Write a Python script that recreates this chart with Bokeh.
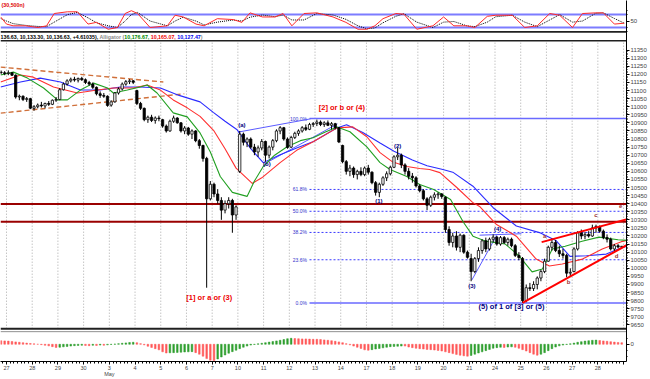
from bokeh.plotting import figure
from bokeh.models import Range1d, FixedTicker, CustomJSTickFormatter, ColumnDataSource
from bokeh.core.properties import value
from bokeh.embed import file_html
from bokeh.resources import INLINE

# ------------------------------------------------------------------ data
day_labels = ["27", "28", "29", "30", "3\nMay", "4", "5", "6", "7", "10", "11", "12", "13",
              "14", "17", "18", "19", "20", "21", "24", "25", "26", "27", "28", ""]
bars_per_day = 7
bar_index = list(range(-2, 168))   # hourly bars, 0 = 27 Apr 9:30

opens = [11215, 11210,
         11205, 11210, 11195, 11060, 11065, 11045, 11050,
         10990, 11000, 11010, 11005, 11020, 11015, 11040,
         11045, 11105, 11140, 11160, 11170, 11165, 11175,
         11167, 11150, 11140, 11120, 11080, 11070, 11065,
         11010, 11030, 11085, 11110, 11140, 11155, 11160,
         11100, 11020, 10990, 10920, 10935, 10915, 10930,
         10920, 10880, 10850, 10910, 10930, 10900, 10850,
         10868, 10830, 10850, 10790, 10760, 10680, 10430,
         10520, 10460, 10420, 10360, 10400, 10420, 10330,
         10600, 10830, 10780, 10800, 10750, 10720, 10745,
         10785, 10700, 10750, 10790, 10850, 10870, 10800,
         10750, 10810, 10835, 10850, 10870, 10860, 10890,
         10896, 10905, 10890, 10900, 10885, 10895, 10870,
         10760, 10660, 10600, 10620, 10580, 10600, 10580,
         10620, 10595, 10530, 10470, 10520, 10560, 10585,
         10625, 10690, 10700, 10640, 10600, 10570, 10560,
         10510, 10480, 10430, 10390, 10440, 10455, 10460,
         10440, 10240, 10160, 10200, 10130, 10205, 10100,
         10060, 9980, 10060, 10110, 10170, 10120, 10180,
         10193, 10150, 10190, 10160, 10180, 10140, 10080,
         10060, 9800, 9880, 9875, 9900, 9940, 9980,
         10044, 10130, 10160, 10110, 10090, 10080, 9970,
         9980, 10120, 10220, 10200, 10210, 10200, 10250,
         10259, 10230, 10190, 10180, 10120, 10140, 10134]
highs = [11225, 11220,
         11225, 11215, 11200, 11075, 11070, 11060, 11055,
         11010, 11020, 11030, 11025, 11035, 11045, 11060,
         11115, 11150, 11170, 11180, 11185, 11180, 11185,
         11175, 11160, 11150, 11125, 11095, 11085, 11070,
         11040, 11090, 11120, 11150, 11165, 11170, 11165,
         11105, 11030, 10995, 10945, 10950, 10940, 10945,
         10925, 10890, 10920, 10945, 10935, 10905, 10880,
         10875, 10860, 10855, 10800, 10765, 10690, 10540,
         10530, 10490, 10440, 10420, 10440, 10430, 10390,
         10850, 10840, 10810, 10810, 10770, 10760, 10800,
         10790, 10760, 10800, 10860, 10880, 10875, 10810,
         10820, 10845, 10860, 10880, 10890, 10900, 10905,
         10920, 10915, 10910, 10915, 10905, 10900, 10875,
         10765, 10670, 10640, 10630, 10610, 10625, 10630,
         10640, 10600, 10540, 10530, 10570, 10600, 10635,
         10700, 10745, 10710, 10650, 10620, 10590, 10570,
         10520, 10490, 10440, 10450, 10470, 10470, 10465,
         10445, 10260, 10220, 10230, 10215, 10210, 10110,
         10090, 10070, 10130, 10180, 10190, 10190, 10210,
         10200, 10200, 10200, 10190, 10190, 10150, 10100,
         10070, 9900, 9910, 9920, 9950, 9990, 10060,
         10140, 10185, 10175, 10140, 10120, 10090, 10000,
         10130, 10230, 10240, 10225, 10230, 10270, 10270,
         10265, 10240, 10210, 10190, 10150, 10150, 10136.63]
lows = [11200, 11195,
        11195, 11190, 11050, 11040, 11035, 11030, 10985,
        10975, 10990, 10995, 10990, 11005, 11010, 11030,
        11040, 11100, 11130, 11150, 11155, 11150, 11160,
        11140, 11130, 11110, 11070, 11055, 11055, 11000,
        11000, 11025, 11075, 11100, 11130, 11140, 11140,
        11010, 10980, 10910, 10900, 10905, 10895, 10910,
        10870, 10840, 10845, 10900, 10895, 10840, 10830,
        10820, 10800, 10780, 10740, 10660, 9880, 10420,
        10440, 10400, 10300, 10340, 10370, 10220, 10300,
        10590, 10760, 10750, 10740, 10700, 10690, 10730,
        10660, 10680, 10730, 10780, 10830, 10790, 10740,
        10745, 10800, 10820, 10840, 10850, 10855, 10875,
        10880, 10880, 10875, 10880, 10860, 10860, 10775,
        10650, 10580, 10570, 10560, 10550, 10570, 10570,
        10580, 10520, 10450, 10440, 10510, 10540, 10575,
        10620, 10670, 10620, 10580, 10550, 10530, 10500,
        10470, 10420, 10360, 10380, 10420, 10430, 10430,
        10220, 10140, 10130, 10110, 10100, 10090, 10060,
        9920, 9970, 10040, 10090, 10100, 10110, 10160,
        10140, 10140, 10150, 10140, 10130, 10070, 10050,
        9785, 9790, 9860, 9860, 9870, 9920, 9970,
        10040, 10110, 10100, 10070, 10060, 9945, 9950,
        9975, 10110, 10180, 10180, 10190, 10195, 10220,
        10220, 10180, 10160, 10110, 10105, 10125, 10133.30]
closes = [11210, 11205,
          11210, 11195, 11060, 11065, 11045, 11050, 10991,
          11000, 11010, 11005, 11020, 11015, 11040, 11045,
          11105, 11140, 11160, 11170, 11165, 11175, 11167,
          11150, 11140, 11120, 11080, 11070, 11065, 11008,
          11030, 11085, 11110, 11140, 11155, 11160, 11151,
          11020, 10990, 10920, 10935, 10915, 10930, 10926,
          10880, 10850, 10910, 10930, 10900, 10850, 10868,
          10830, 10850, 10790, 10760, 10680, 10430, 10520,
          10460, 10420, 10360, 10400, 10420, 10330, 10380,
          10830, 10780, 10800, 10750, 10720, 10745, 10785,
          10700, 10750, 10790, 10850, 10870, 10800, 10748,
          10810, 10835, 10850, 10870, 10860, 10890, 10896,
          10905, 10890, 10900, 10885, 10895, 10870, 10782,
          10660, 10600, 10620, 10580, 10600, 10580, 10620,
          10595, 10530, 10470, 10520, 10560, 10585, 10625,
          10690, 10700, 10640, 10600, 10570, 10560, 10510,
          10480, 10430, 10390, 10440, 10455, 10460, 10444,
          10240, 10160, 10200, 10130, 10205, 10100, 10068,
          9980, 10060, 10110, 10170, 10120, 10180, 10193,
          10150, 10190, 10160, 10180, 10140, 10080, 10067,
          9800, 9880, 9875, 9900, 9940, 9980, 10044,
          10130, 10160, 10110, 10090, 10080, 9970, 9975,
          10120, 10220, 10200, 10210, 10200, 10250, 10259,
          10230, 10190, 10180, 10120, 10140, 10132, 10136.63]

# Alligator lines at sample bars
lips_x = [-2.1, 1.4, 5.2, 9.6, 13.4, 16.1, 19.6, 23.2, 27.0, 28.6, 32.4, 35.9, 37.8, 40.5, 44.9,
          48.7, 52.2, 55.0, 57.7, 61.0, 65.0, 67.0, 69.4, 72.5, 75.9, 79.5, 83.0, 86.0, 89.5, 93.0,
          97.6, 101.2, 103.9, 108.5, 112.0, 115.8, 120.4, 123.9, 126.5, 130.0, 135.3, 139.1, 142.6,
          145.4, 148.1, 151.6, 156.2, 160.8, 166.0, 168.8]
lips_y = [11196, 11214, 11177, 11116, 11042, 11042, 11103, 11146, 11116, 11085, 11103, 11122, 11134,
          11085, 10962, 10937, 10838, 10720, 10568, 10470, 10445, 10540, 10630, 10700, 10752, 10790,
          10808, 10840, 10875, 10845, 10752, 10654, 10611, 10568, 10519, 10488, 10426, 10285, 10199,
          10168, 10150, 10076, 9978, 9996, 10119, 10137, 10168, 10193, 10177, 10172]
teeth_x = [-2.1, 3.3, 6.8, 12.3, 18.8, 24.2, 28.6, 34.0, 37.8, 41.4, 44.9, 48.7, 52.2, 56.0, 59.0,
           62.0, 66.4, 69.0, 74.0, 78.5, 83.0, 89.5, 93.8, 97.6, 101.2, 104.5, 108.5, 112.0, 114.7,
           117.5, 122.1, 126.4, 128.3, 132.8, 138.3, 143.7, 147.3, 150.8, 156.3, 161.7, 166.9, 168.8]
teeth_y = [11153, 11196, 11183, 11122, 11085, 11103, 11116, 11116, 11134, 11103, 11042, 10993, 10940,
           10850, 10740, 10620, 10525, 10560, 10654, 10730, 10783, 10869, 10875, 10814, 10716, 10660,
           10630, 10618, 10611, 10592, 10500, 10408, 10383, 10273, 10199, 10057, 10014, 10027, 10057,
           10119, 10165, 10175]
jaw_x = [-2.1, 3.3, 8.7, 14.2, 19.6, 25.0, 30.5, 35.9, 41.4, 46.5, 52.2, 55.8, 59.0, 62.3, 66.0,
         69.4, 74.0, 78.5, 83.1, 89.4, 92.1, 96.5, 101.2, 105.0, 110.0, 114.0, 118.3, 121.0, 126.5,
         132.0, 138.3, 144.6, 149.2, 152.9, 157.4, 162.8, 166.9, 168.8]
jaw_y = [11122, 11153, 11177, 11153, 11103, 11103, 11122, 11122, 11116, 11070, 11030, 10965, 10910,
         10857, 10740, 10654, 10703, 10745, 10785, 10868, 10888, 10840, 10775, 10725, 10670, 10635,
         10611, 10595, 10508, 10375, 10262, 10221, 10170, 10074, 10078, 10088, 10127, 10140]

# stochastic (top pane)
stoch_x = [-2.1, -0.5, 1.3, 4.7, 8.1, 10.4, 12.5, 16.1, 18.8, 21.7, 24.0, 27.2, 29.7, 31.8, 33.5,
           35.2, 38.6, 43.3, 45.4, 47.6, 51.1, 53.3, 56.9, 61.2, 63.6, 65.8, 69.2, 72.6, 74.8, 77.2,
           80.5, 84.0, 88.4, 91.9, 95.2, 97.6, 99.8, 102.0, 105.5, 107.7, 111.2, 115.6, 118.5, 121.3,
           124.8, 127.0, 130.4, 132.7, 137.2, 140.6, 144.0, 147.4, 150.1, 153.6, 156.3, 159.9, 162.0,
           165.0, 167.7]
stoch_k = [69, 36, 28, 28, 20, 28, 85, 93, 93, 36, 44, 12, 20, 85, 98, 85, 20, 28, 77, 69, 36, 28,
           61, 57, 44, 88, 69, 69, 85, 28, 85, 88, 69, 44, 12, 12, 28, 61, 85, 82, 12, 28, 69, 28,
           28, 20, 72, 77, 77, 20, 28, 85, 77, 20, 85, 88, 88, 36, 40]
stoch_d = [62, 50, 38, 30, 25, 24, 45, 80, 90, 65, 42, 28, 20, 50, 80, 90, 50, 28, 50, 68, 50, 32,
           45, 55, 50, 68, 78, 70, 78, 55, 55, 85, 78, 58, 28, 14, 18, 42, 72, 84, 45, 20, 45, 48,
           28, 24, 45, 70, 77, 45, 24, 55, 80, 45, 50, 86, 88, 62, 40]
stoch_levels = [80, 20]

# gator-style histogram (bottom pane), one value per bar
gator = [18, 17,
         16, 14, 12, 10, 8, 6, 4,
         2, 0, -2, -5, -8, -12, -16,
         -15, -13, -11, -9, -7, -6, -5,
         -6, -7, -5, -6, -4, -5, -3,
         -1, 1, 3, 5, 7, 9, 10,
         8, 3, -3, -10, -16, -22, -28,
         -38, -44, -43, -42, -41, -40, -39,
         -38, -37, -42, -50, -60, -72, -80,
         -82, -74, -64, -54, -45, -37, -30,
         -22, -15, -9, -4, -1, 2, 5,
         8, 11, 14, 17, 20, 24, 28,
         30, 29, 28, 27, 27, 26, 25,
         25, 24, 22, 20, 18, 15, 12,
         8, 3, -3, -9, -15, -21, -28,
         -30, -27, -24, -21, -18, -15, -12,
         -11, -10, -9, -9, -14, -17, -20,
         -22, -24, -26, -27, -29, -31, -34,
         -38, -42, -47, -51, -55, -58, -60,
         -56, -50, -44, -38, -32, -26, -20,
         -17, -15, -16, -14, -13, -15, -20,
         -27, -34, -42, -50, -55, -50, -42,
         -32, -22, -14, -8, -4, -1, 2,
         6, 10, 13, 16, 18, 20, 21,
         19, 17, 15, 13, 11, 9, 8]

fib_labels = ["100.0%", "61.8%", "50.0%", "38.2%", "23.6%", "0.0%"]
fib_prices = [10927, 10488, 10353, 10222, 10053, 9785]
fib_solid = [True, False, False, False, False, True]
support_prices = [10398, 10288]

channel_x0 = [-2.1, -2.1]; channel_y0 = [11245, 10960]
channel_x1 = [42.2, 47.9]; channel_y1 = [11153, 11080]
blue_x0 = [62.6, 70.2, 126.2, 128.3]; blue_y0 = [10843, 10652, 9928, 10205]
blue_x1 = [82.3, 89.6, 133.0, 139.7]; blue_y1 = [10925, 10894, 10205, 10214]
wedge_x0 = [145.2, 140.0]; wedge_y0 = [10162, 9786]
wedge_x1 = [170.0, 170.0]; wedge_y1 = [10313, 10164]

wave_text = ["(a)", "(b)", "(1)", "(2)", "(3)", "(4)"]
wave_x = [63.6, 70.4, 100.9, 106.0, 126.2, 133.2]
wave_y = [10888, 10648, 10414, 10759, 9891, 10245]
big_text = ["[2] or b or (4)", "[1] or a or (3)", "(5) of 1 of [3] or (5)"]
big_x = [90.8, 54.7, 137.0]
big_y = [10995, 9817, 9762]
big_col = ["#ee0000", "#ee0000", "#000080"]
small_text = ["a", "b", "c", "d", "e"]
small_x = [146.0, 152.5, 160.0, 165.6, 166.7]
small_y = [10199, 9916, 10328, 10075, 10383]

# ------------------------------------------------------------------ layout helpers
W, H = 650, 379
X0, X1 = -2.13, 168.30
Y0, Y1 = 9423.4, 11657.2
REF_W, REF_H = 627.0, 363.0


def ref_y(py):
    return Y1 - py / REF_H * (Y1 - Y0)


def ref_x(px):
    return X0 + px / REF_W * (X1 - X0)


STOCH_MID, STOCH_K = 11530.0, 4.0 / 3.0
HIST_ZERO, HIST_K = 9530.0, 1.2308
FONT = value("Liberation Sans")

p = figure(width=W, height=H, x_range=Range1d(X0, X1), y_range=Range1d(Y0, Y1),
           output_backend="svg", toolbar_location=None, y_axis_location="right",
           min_border_left=0, min_border_right=23, min_border_top=0, min_border_bottom=16,
           outline_line_color=None, background_fill_color="white", border_fill_color="white")
p.grid.visible = False
p.extra_y_ranges = {
    "stoch": Range1d(50 + (Y0 - STOCH_MID) / STOCH_K, 50 + (Y1 - STOCH_MID) / STOCH_K),
    "hist": Range1d((Y0 - HIST_ZERO) / HIST_K, (Y1 - HIST_ZERO) / HIST_K),
}

# ---- axes
yax = p.yaxis[0]
main_ticks = list(range(9650, 11351, 50))
stoch_minor = [STOCH_MID + (v - 50) * STOCH_K for v in (0, 20, 80, 100)]
hist_minor = [HIST_ZERO + v * HIST_K for v in (-60, -30, 30)]
yax.ticker = FixedTicker(ticks=main_ticks + [STOCH_MID, HIST_ZERO],
                         minor_ticks=list(range(9650, 11351, 10)) + stoch_minor + hist_minor)
yax.formatter = CustomJSTickFormatter(args=dict(s=STOCH_MID, h=HIST_ZERO), code="""
    if (Math.abs(tick - s) < 0.5) return '50';
    if (Math.abs(tick - h) < 0.5) return '0';
    return tick.toFixed(0);""")
yax.major_label_text_font_size = "6px"
yax.major_label_text_font = "Liberation Sans"
yax.major_tick_out = 3
yax.major_tick_in = 0
yax.minor_tick_out = 1
yax.minor_tick_in = 0
yax.major_label_standoff = 1
yax.axis_line_color = "black"

xax = p.xaxis[0]
day_ticks = [bars_per_day * d - 0.5 for d in range(len(day_labels))]
xax.ticker = FixedTicker(ticks=day_ticks, minor_ticks=[b - 0.5 for b in bar_index] + [167.5])
xax.formatter = CustomJSTickFormatter(args=dict(labels=day_labels), code="""
    const i = Math.round((tick + 0.5) / 7);
    return (i >= 0 && i < labels.length) ? labels[i] : '';""")
xax.major_label_text_align = "left"
xax.major_label_text_font_size = "5.5px"
xax.major_label_text_line_height = 1.0
xax.major_label_text_font = "Liberation Sans"
xax.major_tick_out = 3
xax.major_tick_in = 0
xax.minor_tick_out = 2
xax.minor_tick_in = 0
xax.major_label_standoff = 0
xax.axis_line_color = "black"

# ---- day grid (main pane)
n = len(day_ticks)
p.segment(x0=day_ticks, y0=[ref_y(330)] * n, x1=day_ticks, y1=[ref_y(40.5)] * n,
          line_color="#a8a8a8", line_dash="1 2", line_width=1)

# ---- horizontal support lines
ns = len(support_prices)
p.segment(x0=[X0] * ns, y0=support_prices, x1=[X1] * ns, y1=support_prices,
          line_color="#9a0000", line_width=2.2)

# ---- fibonacci
fib_start, fib_lab_x = 82.0, 81.3
sx = [fib_start for s in fib_solid if s]; sy = [f for f, s in zip(fib_prices, fib_solid) if s]
dx = [fib_start for s in fib_solid if not s]; dy = [f for f, s in zip(fib_prices, fib_solid) if not s]
p.segment(x0=sx, y0=sy, x1=[X1] * len(sx), y1=sy, line_color="#6a6aff", line_width=1.6)
p.segment(x0=dx, y0=dy, x1=[X1] * len(dx), y1=dy, line_color="#3a3aff", line_width=1,
          line_dash="2 2")
p.text(x=[fib_lab_x] * len(fib_labels), y=fib_prices, text=fib_labels, text_align="right",
       text_baseline="middle", text_font_size="5px", text_font=FONT, text_color="#3333cc")

# ---- trend lines
p.segment(x0=channel_x0, y0=channel_y0, x1=channel_x1, y1=channel_y1, line_color="#d0703a",
          line_width=1.4, line_dash="5 3")
p.segment(x0=blue_x0, y0=blue_y0, x1=blue_x1, y1=blue_y1, line_color="#5a5aff", line_width=1)

# ---- alligator
p.line(jaw_x, jaw_y, line_color="#2b2bff", line_width=1.1)
p.line(teeth_x, teeth_y, line_color="#ff3030", line_width=1.1)
p.line(lips_x, lips_y, line_color="#22a022", line_width=1.1)

# ---- candles
src = ColumnDataSource(dict(
    x=bar_index, h=highs, l=lows,
    top=[max(o, c) for o, c in zip(opens, closes)],
    bottom=[min(o, c) for o, c in zip(opens, closes)],
    fill=["white" if c >= o else "black" for o, c in zip(opens, closes)]))
p.segment(x0="x", y0="l", x1="x", y1="h", source=src, line_color="black", line_width=1)
p.vbar(x="x", width=0.62, top="top", bottom="bottom", fill_color="fill", line_color="black",
       line_width=0.8, source=src)

p.segment(x0=wedge_x0, y0=wedge_y0, x1=wedge_x1, y1=wedge_y1, line_color="#ff0000", line_width=2)

# ---- labels on the price pane
p.text(x=wave_x, y=wave_y, text=wave_text, text_align="center", text_baseline="middle",
       text_font_size="6px", text_font=FONT, text_font_style="bold", text_color="#000080")
p.text(x=big_x, y=big_y, text=big_text, text_align="center", text_baseline="middle",
       text_font_size="7.5px", text_font=FONT, text_font_style="bold", text_color=big_col)
p.text(x=small_x, y=small_y, text=small_text, text_align="center", text_baseline="middle",
       text_font_size="6px", text_font=FONT, text_font_style="bold", text_color="#993333")

# ---- stochastic pane
nl = len(stoch_levels)
p.segment(x0=[X0] * nl, y0=stoch_levels, x1=[X1] * nl, y1=stoch_levels, y_range_name="stoch",
          line_color="#7c7cff", line_width=2)
p.line(stoch_x, stoch_d, y_range_name="stoch", line_color="black", line_width=1, line_dash="1 1")
p.line(stoch_x, stoch_k, y_range_name="stoch", line_color="#ff2a2a", line_width=1)

# ---- histogram pane
gcol = []
for i, v in enumerate(gator):
    gcol.append("#2f9f2f" if i > 0 and v > gator[i - 1] else "#ff5858")
p.vbar(x=bar_index, width=0.45, top=[max(v, 0) for v in gator], bottom=[min(v, 0) for v in gator],
       y_range_name="hist", fill_color=gcol, line_color=gcol, line_width=0.5)

# ---- pane separators
for py, lw, col in [(31.5, 1.6, "#202020"), (40.5, 1.4, "#202020"), (330, 2, "#202020"),
                    (333, 1, "#909090")]:
    p.segment(x0=[X0], y0=[ref_y(py)], x1=[X1], y1=[ref_y(py)], line_color=col, line_width=lw)

# ---- header texts
hy = ref_y(36.3)
header = [("136.63, 10,133.30, 10,136.63, +4.61035),", 0.0, "#000000"),
          ("Alligator (", 99.2, "#8a8a8a"),
          ("10,176.67,", 124.0, "#008800"),
          ("10,165.07,", 150.5, "#ee0000"),
          ("10,127.47", 177.0, "#0000ee"),
          (")", 200.6, "#8a8a8a")]
p.text(x=[ref_x(h[1]) for h in header], y=[hy] * len(header), text=[h[0] for h in header],
       text_align="left", text_baseline="middle", text_font_size="5.3px", text_font=FONT,
       text_font_style="bold", text_color=[h[2] for h in header])
p.text(x=[ref_x(1)], y=[ref_y(4.5)], text=["(30,500n)"], text_align="left", text_baseline="middle",
       text_font_size="5.3px", text_font=FONT, text_font_style="bold", text_color="#dd0000")

open("out.html", "w").write(file_html(p, INLINE))
